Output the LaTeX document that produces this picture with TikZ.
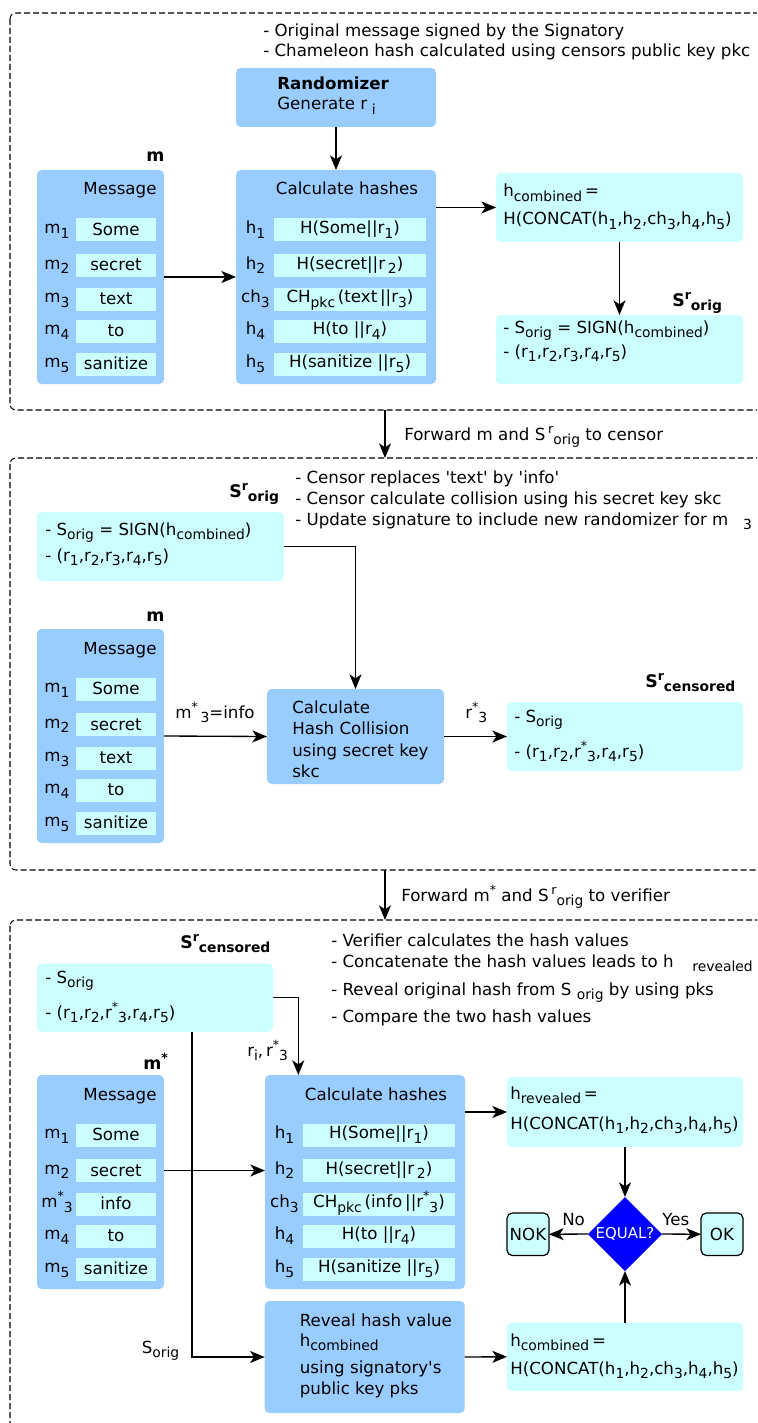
\documentclass[tikz,border=0pt]{standalone}
\usepackage{fontspec}
\setmainfont{DejaVu Sans}[Ligatures=TeXOff]
\usetikzlibrary{arrows.meta,shapes.geometric,calc,fit}
\definecolor{boxblue}{HTML}{99CCFF}
\definecolor{boxcyan}{HTML}{CCFFFF}
\definecolor{decblue}{HTML}{0000FF}
% lowered and raised small text
\newcommand\lowtx[1]{\raisebox{-3.6pt}{\fontsize{10.4pt}{11pt}\selectfont #1}}
\newcommand\hightx[1]{\raisebox{5.2pt}{\fontsize{9.4pt}{10pt}\selectfont #1}}
% message column: #1 name, #2 vertical offset, #3 label and #4 word of row 3
\newcommand\messagecol[4]{%
  \node[bluebox, fit={(37,170+#2)(164,384+#2)}] (#1) {};
  \node[ctxt] (#1head) at (120,195+#2) {Message};
  \foreach \rowk/\rowy/\rowlab/\rowword in {1/230/{m\lowtx{1}}/Some, 2/265.5/{m\lowtx{2}}/secret,
      3/299/{#3}/{#4}, 4/331/{m\lowtx{4}}/to, 5/364/{m\lowtx{5}}/sanitize}{
    \node[field, fit={(76,\rowy+#2-11.5)(156,\rowy+#2+11.5)}] (#1f\rowk) {};
    \node[ctxt] (#1w\rowk) at (116,\rowy+#2+5.5) {\rowword};
    \node[ctxt] (#1l\rowk) at (57,\rowy+#2+3.5) {\rowlab};
  }}
% hash column: #1 name, #2 horizontal offset, #3 vertical offset, #4 row 3 text
\newcommand\hashcol[4]{%
  \node[bluebox, fit={(236+#2,170+#3)(436+#2,384+#3)}] (#1) {};
  \node[ctxt] (#1head) at (347+#2,195+#3) {Calculate hashes};
  \foreach \rowk/\rowy/\rowlab/\rowword in {1/230/{h\lowtx{1}}/{H(Some||r\lowtx{1})},
      2/265.5/{h\lowtx{2}}/{H(secret||r\,\lowtx{2})}, 3/299/{ch\lowtx{3}}/{#4},
      4/331/{h\lowtx{4}}/{H(to ||r\lowtx{4})}, 5/364/{h\lowtx{5}}/{H(sanitize ||r\lowtx{5})}}{
    \node[field, fit={(274+#2,\rowy+#3-11.5)(425.6+#2,\rowy+#3+11.5)}] (#1f\rowk) {};
    \node[ctxt] (#1w\rowk) at (350+#2,\rowy+#3+3.5) {\rowword};
    \node[ctxt] (#1l\rowk) at (255.5+#2,\rowy+#3+3.5) {\rowlab};
  }}
\newcommand\concat{H(CONCAT(h\lowtx{1},h\lowtx{2},ch\lowtx{3},h\lowtx{4},h\lowtx{5})}
\begin{document}
\begin{tikzpicture}[x=0.75pt,y=-0.75pt,font=\fontsize{12.5pt}{14pt}\selectfont,
  bluebox/.style={fill=boxblue, rounded corners=3.5pt, inner sep=0pt, outer sep=0pt},
  cyanbox/.style={fill=boxcyan, rounded corners=3.5pt, inner sep=0pt, outer sep=0pt},
  field/.style={fill=boxcyan, inner sep=0pt, outer sep=0pt},
  termbox/.style={fill=boxcyan, draw=black, line width=0.9pt, rounded corners=4pt,
    inner sep=0pt, outer sep=0pt},
  txt/.style={inner sep=0pt, anchor=base west},
  ctxt/.style={inner sep=0pt, anchor=base},
  hdr/.style={txt, font=\fontsize{13pt}{14pt}\selectfont\bfseries},
  arr/.style={-{Stealth[length=11pt,width=9pt,inset=3pt]}, line width=1pt},
  panel/.style={draw=black, line width=0.8pt, dash pattern=on 4.5pt off 2.25pt,
    rounded corners=4.5pt}]
\useasboundingbox (0,0) rectangle (757,1423);
\clip (0,0) rectangle (757,1423);

% ---------------- signing ----------------
\draw[panel] (10,13) rectangle (800,410);
\node[txt] (note1a) at (263,37) {- Original message signed by the Signatory};
\node[txt] (note1b) at (263,57) {- Chameleon hash calculated using censors public key pkc};

\node[bluebox, fit={(236,68)(436,127)}] (rand) {};
\node[txt] (randa) at (277,90) {\bfseries Randomizer};
\node[txt] (randb) at (277,110) {Generate r\;\lowtx{i}};

\node[hdr] (mlab1) at (146,162) {m};
\messagecol{msgA}{0}{m\lowtx{3}}{text}
\hashcol{hashA}{0}{0}{CH\lowtx{pkc}\,(text\,||r\lowtx{3})}

\node[cyanbox, fit={(496,173)(743,242)}] (hcA) {};
\node[txt] (hcAa) at (503,197) {h\lowtx{combined}\,=};
\node[txt] (hcAb) at (503,225) {\concat};

\node[hdr] (srA) at (672,306) {S\hightx{r}\lowtx{orig}};
\node[cyanbox, fit={(496,315)(743,384)}] (sigA) {};
\node[txt] (sigAa) at (503,333) {- S\lowtx{orig} = SIGN(h\lowtx{combined})};
\node[txt] (sigAb) at (503,357) {- (r\lowtx{1},r\lowtx{2},r\lowtx{3},r\lowtx{4},r\lowtx{5})};

\draw[arr] (rand.south) -- (hashA.north);
\draw[arr] (msgA.east) -- (hashA.west);
\draw[arr] (hashA.east |- hcA.west) -- (hcA.west);
\draw[arr] (hcA.south) -- (sigA.north);

% hand over to the censor
\coordinate (fwdAs) at (385,410);
\coordinate (fwdAe) at (385,458);
\draw[arr] (fwdAs) -- (fwdAe);
\node[txt] (fwdAt) at (404,440) {Forward m and S\,\hightx{r}\lowtx{orig} to censor};

% ---------------- censoring ----------------
\draw[panel] (10,458) rectangle (800,870);
\node[hdr] (srB) at (229,497) {S\hightx{r}\lowtx{orig}};
\node[txt] (note2a) at (295,483) {- Censor replaces 'text' by 'info'};
\node[txt] (note2b) at (295,504) {- Censor calculate collision using his secret key skc};
\node[txt] (note2c) at (295,525) {- Update signature to include new randomizer for m\hspace{11pt}\lowtx{3}};

\node[cyanbox, fit={(37,512)(284,581)}] (sigB) {};
\node[txt] (sigBa) at (45,535) {- S\lowtx{orig} = SIGN(h\lowtx{combined})};
\node[txt] (sigBb) at (45,561) {- (r\lowtx{1},r\lowtx{2},r\lowtx{3},r\lowtx{4},r\lowtx{5})};

\node[hdr] (mlab2) at (146,621) {m};
\messagecol{msgB}{459}{m\lowtx{3}}{text}

\node[bluebox, fit={(267,689)(444,784)}] (coll) {};
\node[txt] (colla) at (292,713) {Calculate};
\node[txt] (collb) at (292,734.5) {Hash Collision};
\node[txt] (collc) at (292,756) {using secret key};
\node[txt] (colld) at (292,777) {skc};

\node[hdr] (srC) at (645,687) {S\hightx{r}\lowtx{censored}};
\node[cyanbox, fit={(507,702)(743,771)}] (scB) {};
\node[txt] (scBa) at (514,722) {- S\lowtx{orig}};
\node[txt] (scBb) at (514,757) {- (r\lowtx{1},r\lowtx{2},r\hightx{*}\lowtx{3},r\lowtx{4},r\lowtx{5})};

\draw[arr] (sigB.east) -| (coll.north);
\draw[arr] (msgB.east) -- (coll.west);
\node[txt] (infolab) at (175,718) {m\hightx{*}\,\lowtx{3}=info};
\draw[arr] (coll.east) -- (scB.west);
\node[txt] (rlab) at (465,718) {r\hightx{*}\lowtx{3}};

% hand over to the verifier
\coordinate (fwdBs) at (385,870);
\coordinate (fwdBe) at (385,920);
\draw[arr] (fwdBs) -- (fwdBe);
\node[txt] (fwdBt) at (401,901) {Forward m\hightx{*} and S\,\hightx{r}\lowtx{orig} to verifier};

% ---------------- verifying ----------------
\draw[panel] (10,920) rectangle (800,1480);
\node[hdr] (srD) at (180,948) {S\hightx{r}\lowtx{censored}};
\node[txt] (note3a) at (331,946) {- Verifier calculates the hash values};
\node[txt] (note3b) at (331,967) {- Concatenate the hash values leads to h\hspace{14pt}\lowtx{revealed}};
\node[txt] (note3c) at (331,995) {- Reveal original hash from S \lowtx{orig} by using pks};
\node[txt] (note3d) at (331,1022) {- Compare the two hash values};

\node[cyanbox, fit={(37,963.5)(273,1032)}] (scC) {};
\node[txt] (scCa) at (45,983) {- S\lowtx{orig}};
\node[txt] (scCb) at (45,1018) {- (r\lowtx{1},r\lowtx{2},r\hightx{*}\lowtx{3},r\lowtx{4},r\lowtx{5})};

\node[hdr] (mlab3) at (143,1069) {m\hightx{*}};
\messagecol{msgC}{905}{m\hightx{*}\lowtx{3}}{info}
\hashcol{hashC}{29}{905}{CH\lowtx{pkc}\,(info\,||r\hightx{*}\lowtx{3})}

\node[cyanbox, fit={(507,1077)(743,1147)}] (hrev) {};
\node[txt] (hreva) at (510,1099) {h\lowtx{revealed}\,=};
\node[txt] (hrevb) at (510,1129) {\concat};

\node[diamond, fill=decblue, inner sep=0pt, outer sep=0pt, minimum width=55.5pt,
  minimum height=55.5pt] (eq) at (625,1234) {};
\node[inner sep=0pt, text=white, font=\fontsize{11.2pt}{13pt}\selectfont] (eqt) at (eq) {EQUAL?};
\node[termbox, fit={(507,1213)(549,1255.5)}] (nok) {};
\node[inner sep=0pt] (nokt) at (nok) {NOK};
\node[termbox, fit={(701,1213)(743,1255.5)}] (ok) {};
\node[inner sep=0pt] (okt) at (ok) {OK};

\node[bluebox, fit={(264.7,1301)(464.7,1413)}] (rev) {};
\node[txt] (reva) at (299.5,1326) {Reveal hash value};
\node[txt] (revb) at (299.5,1346) {h\lowtx{combined}};
\node[txt] (revc) at (299.5,1373) {using signatory's};
\node[txt] (revd) at (299.5,1394) {public key pks};

\node[cyanbox, fit={(507,1322.5)(743,1391)}] (hcC) {};
\node[txt] (hcCa) at (510,1346) {h\lowtx{combined}\,=};
\node[txt] (hcCb) at (510,1374) {\concat};

\draw[arr] (scC.east) -| ($(hashC.north west)+(33.3,0)$);
\node[txt] (rilab) at (247,1056) {r\lowtx{i},\,r\hightx{*}\lowtx{3}};
\draw[arr] ($(scC.south west)+(155,0)$) |- (rev.west);
\node[txt] (sorlab) at (141.5,1353) {S\lowtx{orig}};
\draw[arr] (msgC.east |- msgCf2) -- (hashC.west |- msgCf2);
\draw[arr] (hashC.east |- hrev.west) -- (hrev.west);
\draw[arr] (hrev.south) -- (eq.north);
\draw[arr] (eq.west) -- (nok.east);
\node[txt] (nolab) at (562,1225) {No};
\draw[arr] (eq.east) -- (ok.west);
\node[txt] (yeslab) at (662,1225) {Yes};
\draw[arr] (rev.east) -- (hcC.west);
\draw[arr] (hcC.north) -- (eq.south);
\end{tikzpicture}
\end{document}
